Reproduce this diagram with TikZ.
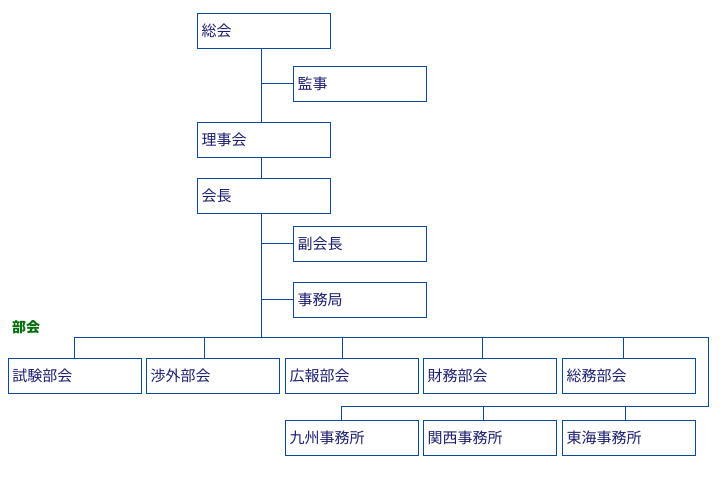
\documentclass[tikz,border=0pt]{standalone}
\usepackage{fontspec}
\setmainfont{Noto Sans CJK JP}
\usetikzlibrary{positioning}
\definecolor{orgline}{HTML}{0A4A9A}
\definecolor{orgtext}{HTML}{1C1F6E}
\definecolor{orggreen}{HTML}{006E0A}
\tikzset{
  unit/.style={draw=orgline, fill=white, line width=1pt, text=orgtext,
    minimum width=133pt, minimum height=35pt, text width=124pt,
    inner xsep=4.5pt, inner ysep=0pt, outer sep=0pt, align=left,
    font=\fontsize{15}{17}\selectfont},
  link/.style={draw=orgline, line width=1pt},
  grp/.style={text=orggreen, inner sep=0pt, font=\fontsize{14}{16}\selectfont\bfseries}
}

\begin{document}
\begin{tikzpicture}[x=1pt, y=-1pt]
  \useasboundingbox (0,0) rectangle (720,480);

  % main column
  \node[unit, anchor=north west] (soukai) at (197,13) {総会};
  \node[unit, below=18pt of soukai, xshift=96pt] (kanji) {監事};
  \node[unit, below=74pt of soukai] (riji) {理事会};
  \node[unit, below=21pt of riji] (kaichou) {会長};
  \node[unit, below=13pt of kaichou, xshift=96pt] (fukukaichou) {副会長};
  \node[unit, below=21pt of fukukaichou] (jimukyoku) {事務局};

  % divisions
  \node[grp, anchor=west] (bukai) at (12,327) {部会};
  \node[unit, anchor=north west] (shiken) at (8,358) {試験部会};
  \node[unit, right=5pt of shiken] (shogai) {渉外部会};
  \node[unit, right=6pt of shogai] (kouhou) {広報部会};
  \node[unit, right=5pt of kouhou] (zaimu) {財務部会};
  \node[unit, right=6pt of zaimu] (soumu) {総務部会};

  % offices
  \node[unit, below=27pt of kouhou] (kyushu) {九州事務所};
  \node[unit, right=5pt of kyushu] (kansai) {関西事務所};
  \node[unit, right=6pt of kansai] (toukai) {東海事務所};

  \coordinate (trunk) at (261,337);
  \coordinate (busR) at (708,337);
  \coordinate (loop) at (708,406);

  \draw[link] ([xshift=-2.5pt]soukai.south) -- ([xshift=-2.5pt]riji.north);
  \draw[link] ([xshift=-2.5pt]riji.south) -- ([xshift=-2.5pt]kaichou.north);
  \draw[link] ([xshift=-2.5pt]kaichou.south) -- (trunk);
  \foreach \n in {kanji,fukukaichou,jimukyoku}
    \draw[link] (\n.west) -- (\n.west -| trunk);

  \draw[link] (shiken.north) |- (busR) -- (loop) -| ([xshift=-10.5pt]kyushu.north);
  \foreach \n/\dx in {shogai/-8.5, kouhou/-9.5, zaimu/-7.5, soumu/-5.5}
    \draw[link] ([xshift=\dx pt]\n.north) -- ([xshift=\dx pt]\n.north |- busR);
  \foreach \n/\dx in {kansai/-6.5, toukai/-3.5}
    \draw[link] ([xshift=\dx pt]\n.north) -- ([xshift=\dx pt]\n.north |- loop);
\end{tikzpicture}
\end{document}
